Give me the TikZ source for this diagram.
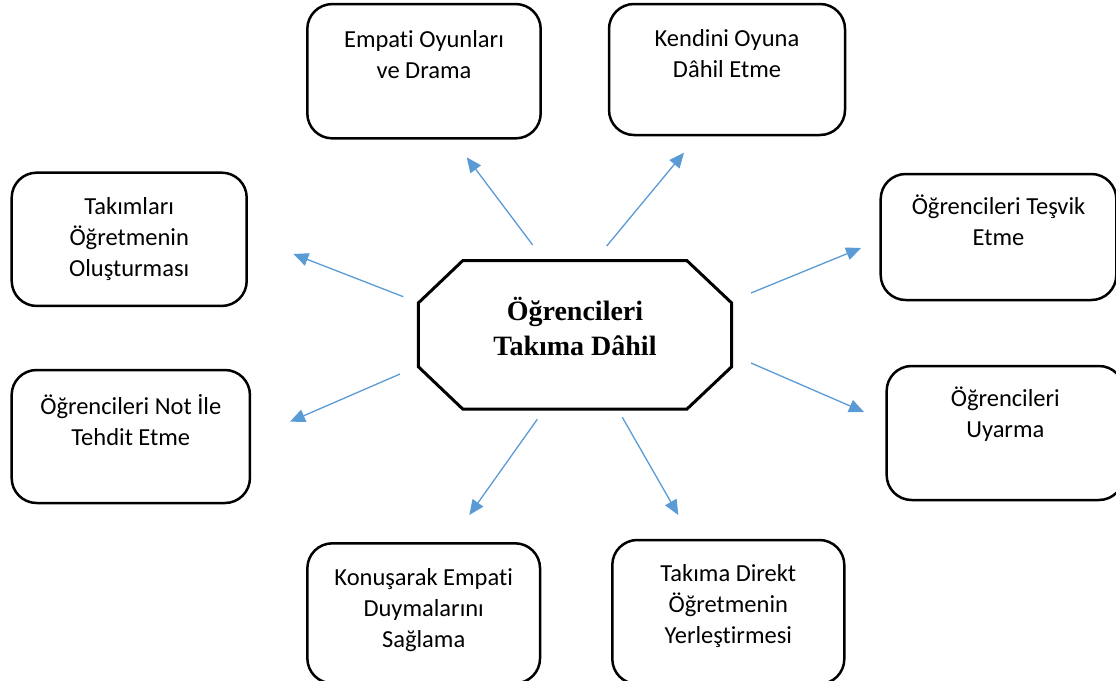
\documentclass[tikz,border=0pt]{standalone}
\usepackage{fontspec}
\setmainfont{Carlito}[Ligatures=NoCommon]
\newfontfamily\hubfont{Liberation Serif}
\usepackage{tikz}
\usetikzlibrary{
	positioning,
	arrows.meta
}
\definecolor{arrowblue}{HTML}{5B9BD5}

\begin{document}
\begin{tikzpicture}[x=1pt, y=-1pt,
		box/.style={draw, line width=2.5pt, rounded corners=25pt, inner sep=0pt},
		boxtext/.style={inner sep=0pt, text width=228pt, align=flush center, font=\fontsize{24.5}{31}\selectfont},
		hubtext/.style={anchor=north, inner sep=0pt, align=flush center, font=\hubfont\bfseries\fontsize{28}{35}\selectfont},
		spoke/.style={color=arrowblue, line width=1.3pt, -{Triangle[length=15pt, width=13pt]}}
	]
	\useasboundingbox (0,0) rectangle (1116,680);
	\clip (0,0) rectangle (1116,680);

	% centre
	\draw[line width=3pt, line join=miter]
		(418.3,303) -- (462.7,260.7) -- (687,260.7) -- (731.7,303)
		-- (731.7,366.7) -- (687,409) -- (462.7,409) -- (418.3,366.7) -- cycle;
	\node[hubtext] (hub) at (575,296) {\rule{0pt}{24pt}Öğrencileri\\Takıma Dâhil};

	% boxes
	\node[box, minimum width=233.4pt, minimum height=134.3pt] (drama) at (424,71.2) {};
	\node[boxtext, below=22pt of drama.north] (dramatext) {\rule{0pt}{22pt}Empati Oyunları\\ve Drama};

	\node[box, minimum width=236pt, minimum height=131pt] (oyun) at (727,69.5) {};
	\node[boxtext, below=22pt of oyun.north] (oyuntext) {\rule{0pt}{22pt}Kendini Oyuna\\Dâhil Etme};

	\node[box, minimum width=235pt, minimum height=133.3pt] (takim) at (129.2,239.3) {};
	\node[boxtext, below=21pt of takim.north] (takimtext) {\rule{0pt}{22pt}Takımları\\Öğretmenin\\Oluşturması};

	\node[box, minimum width=235.6pt, minimum height=126pt] (tesvik) at (998.5,237) {};
	\node[boxtext, below=20pt of tesvik.north] (tesviktext) {\rule{0pt}{22pt}Öğrencileri Teşvik\\Etme};

	\node[box, minimum width=238.3pt, minimum height=133pt] (tehdit) at (130.8,436.5) {};
	\node[boxtext, below=24pt of tehdit.north] (tehdittext) {\rule{0pt}{22pt}Öğrencileri Not İle\\Tehdit Etme};

	\node[box, minimum width=237.3pt, minimum height=134pt] (uyarma) at (1005.3,433) {};
	\node[boxtext, below=20pt of uyarma.north] (uyarmatext) {\rule{0pt}{22pt}Öğrencileri\\Uyarma};

	\node[box, minimum width=232.7pt, minimum height=140pt] (konusma) at (423.7,613.3) {};
	\node[boxtext, below=21pt of konusma.north] (konusmatext) {\rule{0pt}{22pt}Konuşarak Empati\\Duymalarını\\Sağlama};

	\node[box, minimum width=232pt, minimum height=144pt] (yerlesme) at (728.3,612) {};
	\node[boxtext, below=21pt of yerlesme.north] (yerlesmetext) {\rule{0pt}{22pt}Takıma Direkt\\Öğretmenin\\Yerleştirmesi};

	% arrows
	\foreach \n/\a/\b/\c/\d in {
			1/532.7/245/466.7/157.3,
			2/606.7/246/684/152.7,
			3/403.3/296.7/293.3/254,
			4/751/293/861/248,
			5/400/374/290/421.7,
			6/751/363/864/412,
			7/537.3/419.3/469.3/515,
			8/622.3/417.3/678.3/515}
	{
		\coordinate (s\n) at (\a,\b);
		\coordinate (e\n) at (\c,\d);
		\draw[spoke] (s\n) -- (e\n);
	}
\end{tikzpicture}
\end{document}
